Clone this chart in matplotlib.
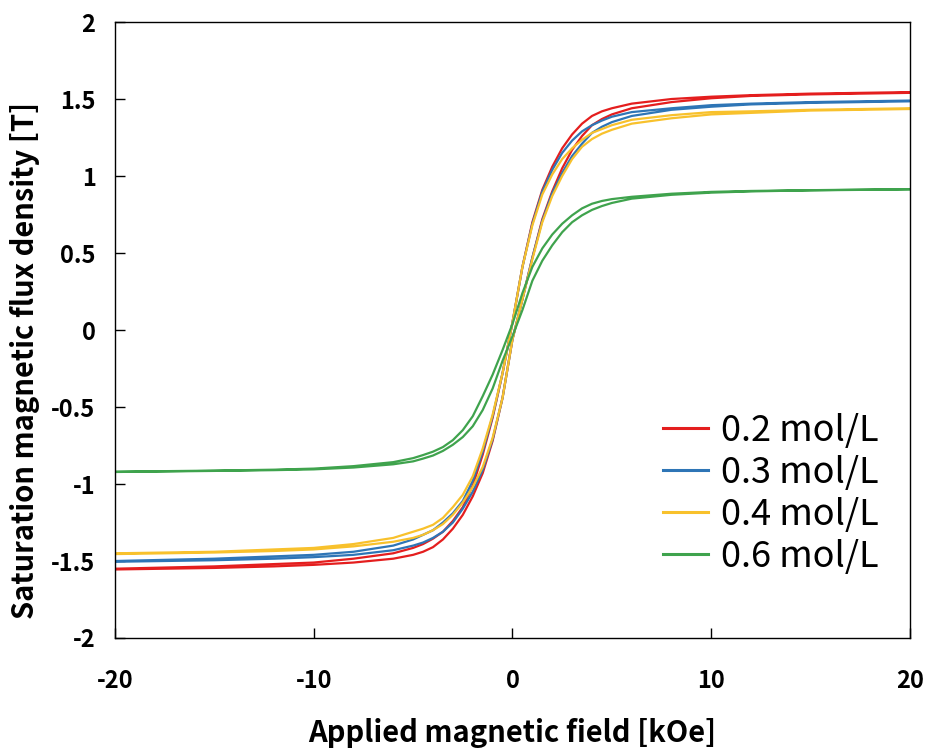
import matplotlib
matplotlib.use("Agg")
import matplotlib.pyplot as plt

plt.rcParams['font.family'] = ['Noto Sans CJK KR', 'DejaVu Sans']
plt.rcParams['axes.unicode_minus'] = False

# Field values (kOe): descending branch (+20 -> -20) and ascending branch (-20 -> +20)
H_desc = [20, 15, 12, 10, 8, 6, 5, 4.5, 4, 3.5, 3, 2.5, 2, 1.5, 1, 0.5, 0,
          -0.5, -1, -1.5, -2, -2.5, -3, -3.5, -4, -4.5, -5, -6, -8, -10, -12, -15, -20]
H_asc = [-20, -15, -12, -10, -8, -6, -5, -4.5, -4, -3.5, -3, -2.5, -2, -1.5, -1, -0.5, 0,
         0.5, 1, 1.5, 2, 2.5, 3, 3.5, 4, 4.5, 5, 6, 8, 10, 12, 15, 20]

labels = ["0.2 mol/L", "0.3 mol/L", "0.4 mol/L", "0.6 mol/L"]

red_desc = [1.545, 1.535, 1.525, 1.515, 1.50, 1.47, 1.44, 1.42, 1.39, 1.34, 1.27, 1.18, 1.06, 0.91, 0.70, 0.41, 0.05,
            -0.28, -0.57, -0.81, -1.01, -1.15, -1.24, -1.31, -1.355, -1.39, -1.415, -1.45, -1.485, -1.51, -1.52, -1.535, -1.55]
red_asc = [-1.555, -1.545, -1.535, -1.525, -1.51, -1.485, -1.46, -1.44, -1.41, -1.36, -1.29, -1.20, -1.08, -0.93, -0.72, -0.44, -0.06,
           0.20, 0.47, 0.72, 0.90, 1.05, 1.17, 1.26, 1.33, 1.37, 1.40, 1.44, 1.48, 1.505, 1.52, 1.53, 1.54]

blue_desc = [1.49, 1.48, 1.47, 1.46, 1.44, 1.415, 1.385, 1.36, 1.33, 1.29, 1.23, 1.15, 1.04, 0.90, 0.69, 0.41, 0.05,
             -0.28, -0.56, -0.79, -0.98, -1.11, -1.19, -1.25, -1.30, -1.33, -1.36, -1.40, -1.44, -1.46, -1.47, -1.485, -1.50]
blue_asc = [-1.505, -1.495, -1.485, -1.475, -1.46, -1.43, -1.40, -1.38, -1.35, -1.31, -1.25, -1.16, -1.05, -0.91, -0.71, -0.44, -0.06,
            0.20, 0.47, 0.71, 0.89, 1.02, 1.13, 1.21, 1.28, 1.32, 1.35, 1.39, 1.43, 1.45, 1.465, 1.475, 1.485]

yellow_desc = [1.44, 1.43, 1.42, 1.415, 1.395, 1.365, 1.33, 1.305, 1.28, 1.235, 1.18, 1.11, 1.01, 0.88, 0.68, 0.41, 0.05,
               -0.28, -0.55, -0.77, -0.95, -1.07, -1.15, -1.22, -1.265, -1.29, -1.31, -1.35, -1.39, -1.415, -1.425, -1.44, -1.45]
yellow_asc = [-1.455, -1.445, -1.435, -1.425, -1.405, -1.375, -1.35, -1.33, -1.30, -1.26, -1.20, -1.12, -1.02, -0.89, -0.70, -0.44, -0.06,
              0.20, 0.46, 0.70, 0.87, 1.00, 1.11, 1.19, 1.24, 1.275, 1.30, 1.34, 1.375, 1.40, 1.41, 1.425, 1.435]

green_desc = [0.915, 0.908, 0.903, 0.897, 0.885, 0.865, 0.85, 0.838, 0.82, 0.79, 0.745, 0.69, 0.62, 0.53, 0.41, 0.24, 0.04,
              -0.13, -0.29, -0.43, -0.56, -0.65, -0.715, -0.76, -0.79, -0.812, -0.832, -0.858, -0.884, -0.90, -0.907, -0.913, -0.92]
green_asc = [-0.922, -0.915, -0.91, -0.905, -0.893, -0.872, -0.853, -0.835, -0.815, -0.785, -0.745, -0.695, -0.625, -0.52, -0.38, -0.20, -0.04,
             0.13, 0.32, 0.45, 0.55, 0.635, 0.70, 0.745, 0.78, 0.805, 0.825, 0.853, 0.878, 0.892, 0.90, 0.907, 0.913]

colors = ["#E41E1E", "#2E75B6", "#F8C12C", "#3FA34D"]
series = [(red_desc, red_asc), (blue_desc, blue_asc), (yellow_desc, yellow_asc), (green_desc, green_asc)]

x_ticks = [-20, -10, 0, 10, 20]
y_ticks = [-2, -1.5, -1, -0.5, 0, 0.5, 1, 1.5, 2]
y_ticklabels = ["-2", "-1.5", "-1", "-0.5", "0", "0.5", "1", "1.5", "2"]

fig = plt.figure(figsize=(9.33, 7.49), dpi=100)
ax = fig.add_axes([0.1233, 0.1482, 0.852, 0.8224])

for (d, a), c, lab in zip(series, colors, labels):
    ax.plot(H_desc + H_asc, d + a, color=c, lw=1.6, label=lab, solid_joinstyle='round')

ax.set_xlim(-20, 20)
ax.set_ylim(-2, 2)
ax.set_xticks(x_ticks)
ax.set_yticks(y_ticks)
ax.set_yticklabels(y_ticklabels)
ax.tick_params(direction='in', length=7, width=1, labelsize=17)
ax.tick_params(axis='y', pad=14)
ax.tick_params(axis='x', pad=22)
for t in ax.get_xticklabels() + ax.get_yticklabels():
    t.set_fontweight('bold')
for s in ax.spines.values():
    s.set_linewidth(1.0)

ax.set_xlabel("Applied magnetic field [kOe]", fontsize=21, fontweight='bold', labelpad=18)
ax.set_ylabel("Saturation magnetic flux density [T]", fontsize=21, fontweight='bold',
              va='center', ha='center')
ax.yaxis.set_label_coords(-0.113, 0.451)

leg = ax.legend(loc='center left', bbox_to_anchor=(0.689, 0.234), frameon=False, fontsize=26,
                handlelength=1.25, handletextpad=0.35, labelspacing=0.17, borderpad=0, borderaxespad=0)
for l in leg.get_lines():
    l.set_linewidth(2.2)

fig.savefig("out.png", dpi=100)
